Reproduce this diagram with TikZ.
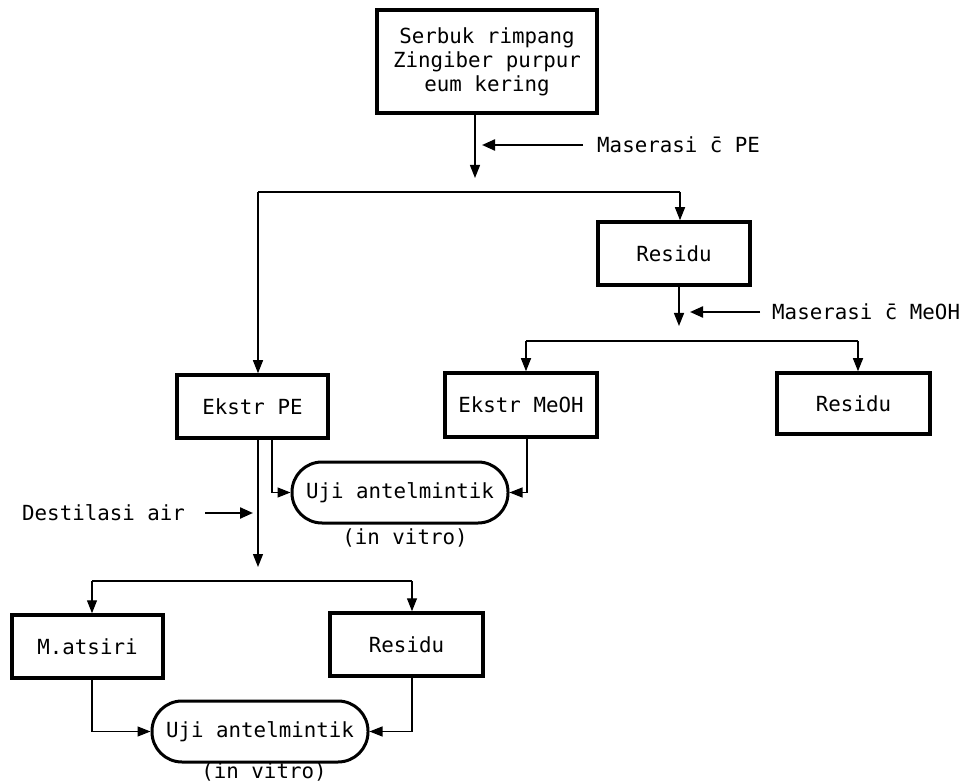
\documentclass[tikz,border=0pt]{standalone}
\usepackage{fontspec}
\setmainfont{DejaVu Sans Mono}
\usetikzlibrary{arrows.meta,calc}
\begin{document}
\begin{tikzpicture}[x=1pt,y=-1pt,
 every node/.style={font=\fontsize{20.8}{24}\selectfont},
 box/.style={draw, line width=3.5pt, inner sep=0pt, align=center},
 capsule/.style={draw, line width=3pt, rounded corners=30pt, inner sep=0pt, minimum width=216pt, minimum height=61pt},
 conn/.style={line width=1.4pt},
 arr/.style={conn, -{Triangle[length=13pt,width=10pt]}},
 side/.style={line width=2.3pt, -{Triangle[length=13pt,width=11pt]}},
 lbl/.style={inner sep=0pt, anchor=west}
]
\useasboundingbox (0,0) rectangle (969,783);
% boxes
\node[box, minimum width=220pt, minimum height=103pt] (top) at (487,61.5) {Serbuk rimpang\\Zingiber purpur\\eum kering};
\node[box, minimum width=152pt, minimum height=63pt] (res1) at (674,253.5) {Residu};
\node[box, minimum width=151pt, minimum height=63pt] (epe) at (252.5,406.5) {Ekstr PE};
\node[box, minimum width=152pt, minimum height=64pt] (emeoh) at (521,405) {Ekstr MeOH};
\node[box, minimum width=153pt, minimum height=61pt] (res2) at (853.5,403.5) {Residu};
\node[box, minimum width=151pt, minimum height=63pt] (mats) at (87.5,646.5) {M.atsiri};
\node[box, minimum width=153pt, minimum height=63pt] (res3) at (406.5,644.5) {Residu};
\node[capsule] (cap1) at (400,492.5) {Uji antelmintik};
\node[inner sep=0pt] (iv1) at (405,538) {(in vitro)};
\node[capsule] (cap2) at (260,731.5) {Uji antelmintik};
\node[inner sep=0pt, anchor=base] (iv2) at (264,778) {(in vitro)};
% labels
\node[lbl] (mpe) at (597,145) {Maserasi \={c} PE};
\node[lbl] (mme) at (772,312) {Maserasi \={c} MeOH};
\node[lbl] (des) at (22,513) {Destilasi air};
% coordinates
\coordinate (t1) at (475,178);
\coordinate (m1e) at (482,145);
\coordinate (h1l) at (258,192);
\coordinate (h1r) at (680,192);
\coordinate (t2) at (679,326);
\coordinate (m2e) at (690,312);
\coordinate (h2l) at (526,341);
\coordinate (h2r) at (858,341);
\coordinate (t3) at (258,567);
\coordinate (b1) at (272,440);
\coordinate (b2) at (527,440);
\coordinate (d1) at (253,513);
\coordinate (h3l) at (92,581);
\coordinate (h3r) at (412,581);
% connectors
\draw[arr] (top.south -| t1) -- (t1);
\draw[side] ($(mpe.west)+(-14,0)$) -- (m1e);
\draw[conn] (h1l) -- (h1r);
\draw[arr] (h1l) -- (h1l |- epe.north);
\draw[arr] (h1r) -- (h1r |- res1.north);
\draw[arr] (res1.south -| t2) -- (t2);
\draw[side] ($(mme.west)+(-12,0)$) -- (m2e);
\draw[conn] (h2l) -- (h2r);
\draw[arr] (h2l) -- (h2l |- emeoh.north);
\draw[arr] (h2r) -- (h2r |- res2.north);
\draw[arr] (epe.south -| t3) -- (t3);
\draw[arr] (epe.south -| b1) |- (cap1.west);
\draw[arr] (emeoh.south -| b2) |- (cap1.east);
\draw[side] ($(des.east)+(20,0)$) -- (d1);
\draw[conn] (h3l) -- (h3r);
\draw[arr] (h3l) -- (h3l |- mats.north);
\draw[arr] (h3r) -- (h3r |- res3.north);
\draw[arr] (mats.south -| h3l) |- (cap2.west);
\draw[arr] (res3.south -| h3r) |- (cap2.east);
\end{tikzpicture}
\end{document}
